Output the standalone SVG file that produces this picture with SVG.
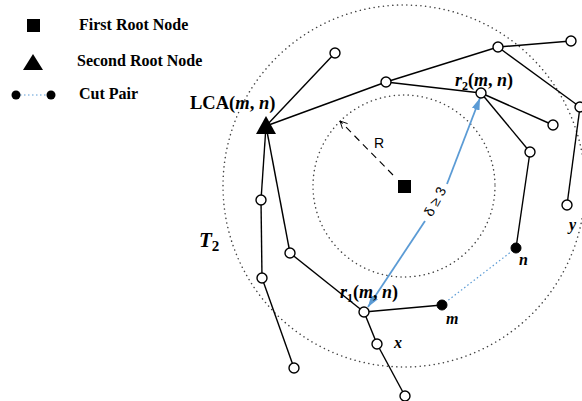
<svg xmlns="http://www.w3.org/2000/svg" width="582" height="401" viewBox="0 0 582 401">
<style>
.e{stroke:#000;stroke-width:1.4;fill:none}
.n{fill:#fff;stroke:#000;stroke-width:1.4}
.b{fill:#000;stroke:#000;stroke-width:1}
.ring{fill:none;stroke:#444;stroke-width:1.5;stroke-dasharray:0.1 4.6;stroke-linecap:round}
.lg{font-family:"Liberation Serif","Times New Roman",serif;font-weight:bold;font-size:16px;fill:#000}
.lb{font-family:"Liberation Serif","Times New Roman",serif;font-weight:bold;fill:#000}
.it{font-style:italic}
.sans{font-family:"Liberation Sans",Arial,sans-serif;font-size:14px;fill:#000}
</style>
<defs>
<marker id="ba" viewBox="0 0 12 8" refX="12" refY="4" markerWidth="12" markerHeight="8" markerUnits="userSpaceOnUse" orient="auto-start-reverse">
<path d="M0,0 L12,4 L0,8 Z" fill="#5b9bd5"/>
</marker>
<marker id="oa" viewBox="0 0 10 10" refX="9" refY="5" markerWidth="9" markerHeight="9" markerUnits="userSpaceOnUse" orient="auto">
<path d="M1,1 L9,5 L1,9" fill="none" stroke="#000" stroke-width="1"/>
</marker>
</defs>
<rect width="582" height="401" fill="#fff"/>
<g id="rings">
<circle class="ring" cx="404" cy="186" r="181"/>
<circle class="ring" cx="404" cy="186" r="91"/>
</g>
<g id="legend">
<rect x="27" y="19" width="13" height="13" fill="#000"/>
<text class="lg" x="79" y="30">First Root Node</text>
<polygon points="33,54 23,70 43,70" fill="#000"/>
<text class="lg" x="77" y="66">Second Root Node</text>
<line x1="16" y1="95" x2="51" y2="95" stroke="#5b9bd5" stroke-width="1.2" stroke-dasharray="1.5 2.5"/>
<circle cx="16" cy="95" r="4.5" fill="#000"/>
<circle cx="51" cy="95" r="4.5" fill="#000"/>
<text class="lg" x="79" y="99">Cut Pair</text>
</g>
<g id="connectors">
<line class="e" x1="266" y1="126" x2="335" y2="53"/>
<line class="e" x1="266" y1="126" x2="386" y2="82"/>
<line class="e" x1="386" y1="82" x2="498" y2="47"/>
<line class="e" x1="498" y1="47" x2="571" y2="41"/>
<line class="e" x1="498" y1="47" x2="580" y2="107"/>
<line class="e" x1="386" y1="82" x2="481" y2="93"/>
<line class="e" x1="481" y1="93" x2="553" y2="125"/>
<line class="e" x1="481" y1="93" x2="530" y2="152"/>
<line class="e" x1="530" y1="152" x2="516" y2="248"/>
<line class="e" x1="580" y1="107" x2="567" y2="205"/>
<line class="e" x1="266" y1="126" x2="261" y2="200"/>
<line class="e" x1="261" y1="200" x2="262" y2="278"/>
<line class="e" x1="262" y1="278" x2="294" y2="368"/>
<line class="e" x1="266" y1="126" x2="290" y2="253"/>
<line class="e" x1="290" y1="253" x2="364" y2="312"/>
<line class="e" x1="364" y1="312" x2="442" y2="305"/>
<line class="e" x1="364" y1="312" x2="377" y2="344"/>
<line class="e" x1="377" y1="344" x2="405" y2="396"/>
<line x1="442" y1="305" x2="516" y2="248" stroke="#5b9bd5" stroke-width="1.2" stroke-dasharray="1.5 2.5"/>
<line x1="393" y1="175" x2="340" y2="121" stroke="#000" stroke-width="1.1" stroke-dasharray="7 5" marker-end="url(#oa)"/>
<line x1="368" y1="307" x2="425" y2="221" stroke="#5b9bd5" stroke-width="1.8" marker-start="url(#ba)"/>
<line x1="447" y1="184" x2="480" y2="98" stroke="#5b9bd5" stroke-width="1.8" marker-end="url(#ba)"/>
</g>
<g id="root1"><rect x="398" y="180" width="13" height="13" fill="#000"/></g>
<g id="lca"><polygon points="266,116 256,134 276,134" fill="#000"/></g>
<g id="nA"><circle class="n" cx="335" cy="53" r="5"/></g>
<g id="nB"><circle class="n" cx="386" cy="82" r="5"/></g>
<g id="nC"><circle class="n" cx="498" cy="47" r="5"/></g>
<g id="nD"><circle class="n" cx="571" cy="41" r="5"/></g>
<g id="nF"><circle class="n" cx="580" cy="107" r="5"/></g>
<g id="r2"><circle class="n" cx="481" cy="93" r="5"/></g>
<g id="nE"><circle class="n" cx="553" cy="125" r="5"/></g>
<g id="nG"><circle class="n" cx="530" cy="152" r="5"/></g>
<g id="nn"><circle class="b" cx="516" cy="248" r="5"/></g>
<g id="ny"><circle class="n" cx="567" cy="205" r="5"/></g>
<g id="nH"><circle class="n" cx="261" cy="200" r="5"/></g>
<g id="nJ"><circle class="n" cx="262" cy="278" r="5"/></g>
<g id="nK"><circle class="n" cx="294" cy="368" r="5"/></g>
<g id="nI"><circle class="n" cx="290" cy="253" r="5"/></g>
<g id="r1"><circle class="n" cx="364" cy="312" r="5"/></g>
<g id="nm"><circle class="b" cx="442" cy="305" r="5"/></g>
<g id="nx"><circle class="n" cx="377" cy="344" r="5"/></g>
<g id="nBot"><circle class="n" cx="405" cy="396" r="5"/></g>
<g id="labels">
<text class="lb" x="190" y="109" style="font-size:18.5px">LCA(<tspan class="it">m</tspan>, <tspan class="it">n</tspan>)</text>
<text class="lb" x="455" y="86" style="font-size:18px"><tspan class="it">r</tspan><tspan style="font-size:12px" dy="4">2</tspan><tspan dy="-4">(</tspan><tspan class="it">m</tspan>, <tspan class="it">n</tspan>)</text>
<text class="lb" x="340" y="298" style="font-size:18px"><tspan class="it">r</tspan><tspan style="font-size:12px" dy="4">1</tspan><tspan dy="-4">(</tspan><tspan class="it">m</tspan>, <tspan class="it">n</tspan>)</text>
<text class="lb it" x="446" y="324" style="font-size:16px">m</text>
<text class="lb it" x="394" y="348" style="font-size:16px">x</text>
<text class="lb it" x="519" y="265" style="font-size:16px">n</text>
<text class="lb it" x="569" y="230" style="font-size:16px">y</text>
<text class="lb" x="199" y="247" style="font-size:21px"><tspan class="it">T</tspan><tspan style="font-size:15px" dy="4">2</tspan></text>
<text class="sans" x="379" y="148" text-anchor="middle">R</text>
<text class="sans" x="436" y="202" text-anchor="middle" dominant-baseline="middle" transform="rotate(-62 436 202)">δ ≥ 3</text>
</g>
</svg>
